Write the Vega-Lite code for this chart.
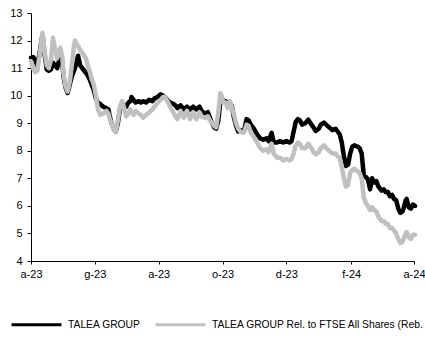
{
  "$schema": "https://vega.github.io/schema/vega-lite/v6.json",
  "width": 383,
  "height": 248,
  "autosize": "none",
  "padding": {"left": 31, "top": 13, "right": 11, "bottom": 77},
  "background": "white",
  "config": {
    "view": {"stroke": null},
    "font": "Liberation Sans",
    "legend": {
      "orient": "none",
      "legendX": -21,
      "legendY": 285,
      "direction": "horizontal",
      "symbolType": "stroke",
      "symbolSize": 2500,
      "symbolStrokeWidth": 3,
      "labelFontSize": 10.3,
      "labelColor": "#000000",
      "labelOffset": 5,
      "columnPadding": 8,
      "padding": 0,
      "labelLimit": 400
    }
  },
  "data": {
    "values": [
      {"d": "2023-04-01", "t": 11.38, "r": 11.25},
      {"d": "2023-04-03", "t": 11.4, "r": 11.0},
      {"d": "2023-04-05", "t": 11.3, "r": 10.85},
      {"d": "2023-04-07", "t": 11.1, "r": 10.9},
      {"d": "2023-04-09", "t": 11.5, "r": 11.4},
      {"d": "2023-04-11", "t": 12.0, "r": 12.0},
      {"d": "2023-04-12", "t": 12.2, "r": 12.28},
      {"d": "2023-04-14", "t": 11.5, "r": 11.6},
      {"d": "2023-04-16", "t": 10.95, "r": 11.1},
      {"d": "2023-04-18", "t": 10.9, "r": 11.0},
      {"d": "2023-04-20", "t": 10.95, "r": 11.3},
      {"d": "2023-04-22", "t": 11.2, "r": 12.1},
      {"d": "2023-04-24", "t": 11.1, "r": 11.7},
      {"d": "2023-04-26", "t": 11.0, "r": 11.35},
      {"d": "2023-04-28", "t": 11.3, "r": 11.6},
      {"d": "2023-04-29", "t": 11.45, "r": 11.74},
      {"d": "2023-05-01", "t": 11.2, "r": 11.4},
      {"d": "2023-05-02", "t": 10.7, "r": 10.8},
      {"d": "2023-05-04", "t": 10.3, "r": 10.35},
      {"d": "2023-05-06", "t": 10.1, "r": 10.15},
      {"d": "2023-05-08", "t": 10.4, "r": 10.5},
      {"d": "2023-05-10", "t": 10.7, "r": 11.1},
      {"d": "2023-05-12", "t": 10.9, "r": 11.8},
      {"d": "2023-05-13", "t": 11.0, "r": 12.0},
      {"d": "2023-05-15", "t": 11.3, "r": 11.85},
      {"d": "2023-05-16", "t": 11.45, "r": 11.8},
      {"d": "2023-05-18", "t": 11.1, "r": 11.65},
      {"d": "2023-05-20", "t": 11.0, "r": 11.55},
      {"d": "2023-05-22", "t": 10.9, "r": 11.45},
      {"d": "2023-05-24", "t": 10.8, "r": 11.3},
      {"d": "2023-05-25", "t": 10.75, "r": 11.1},
      {"d": "2023-05-27", "t": 10.6, "r": 10.9},
      {"d": "2023-05-29", "t": 10.4, "r": 10.6},
      {"d": "2023-05-31", "t": 10.2, "r": 10.4},
      {"d": "2023-06-02", "t": 9.9, "r": 10.0},
      {"d": "2023-06-04", "t": 9.75, "r": 9.5},
      {"d": "2023-06-06", "t": 9.7, "r": 9.3},
      {"d": "2023-06-09", "t": 9.6, "r": 9.35},
      {"d": "2023-06-12", "t": 9.55, "r": 9.45},
      {"d": "2023-06-14", "t": 9.5, "r": 9.35},
      {"d": "2023-06-15", "t": 9.3, "r": 9.2},
      {"d": "2023-06-17", "t": 9.0, "r": 9.0},
      {"d": "2023-06-19", "t": 8.8, "r": 8.75},
      {"d": "2023-06-21", "t": 8.7, "r": 8.7},
      {"d": "2023-06-23", "t": 9.0, "r": 9.1},
      {"d": "2023-06-25", "t": 9.5, "r": 9.6},
      {"d": "2023-06-27", "t": 9.75, "r": 9.8},
      {"d": "2023-06-29", "t": 9.6, "r": 9.55},
      {"d": "2023-07-01", "t": 9.6, "r": 9.25},
      {"d": "2023-07-03", "t": 9.75, "r": 9.35},
      {"d": "2023-07-05", "t": 9.8, "r": 9.5},
      {"d": "2023-07-06", "t": 9.95, "r": 9.4},
      {"d": "2023-07-08", "t": 9.85, "r": 9.3},
      {"d": "2023-07-10", "t": 9.75, "r": 9.45},
      {"d": "2023-07-13", "t": 9.8, "r": 9.35},
      {"d": "2023-07-15", "t": 9.75, "r": 9.3},
      {"d": "2023-07-17", "t": 9.8, "r": 9.2},
      {"d": "2023-07-20", "t": 9.75, "r": 9.3},
      {"d": "2023-07-23", "t": 9.85, "r": 9.4},
      {"d": "2023-07-26", "t": 9.8, "r": 9.5},
      {"d": "2023-07-28", "t": 9.9, "r": 9.6},
      {"d": "2023-07-31", "t": 9.95, "r": 9.75},
      {"d": "2023-08-03", "t": 10.05, "r": 9.85},
      {"d": "2023-08-05", "t": 10.0, "r": 9.95},
      {"d": "2023-08-07", "t": 9.95, "r": 9.95},
      {"d": "2023-08-10", "t": 9.8, "r": 9.75},
      {"d": "2023-08-12", "t": 9.75, "r": 9.6},
      {"d": "2023-08-15", "t": 9.7, "r": 9.4},
      {"d": "2023-08-17", "t": 9.65, "r": 9.25},
      {"d": "2023-08-19", "t": 9.55, "r": 9.15},
      {"d": "2023-08-22", "t": 9.65, "r": 9.45},
      {"d": "2023-08-25", "t": 9.5, "r": 9.2},
      {"d": "2023-08-28", "t": 9.6, "r": 9.45},
      {"d": "2023-08-31", "t": 9.5, "r": 9.15},
      {"d": "2023-09-03", "t": 9.6, "r": 9.4},
      {"d": "2023-09-06", "t": 9.5, "r": 9.15},
      {"d": "2023-09-09", "t": 9.6, "r": 9.4},
      {"d": "2023-09-11", "t": 9.45, "r": 9.25},
      {"d": "2023-09-14", "t": 9.35, "r": 9.2},
      {"d": "2023-09-17", "t": 9.4, "r": 9.25},
      {"d": "2023-09-19", "t": 9.2, "r": 9.1},
      {"d": "2023-09-21", "t": 9.0, "r": 9.0},
      {"d": "2023-09-23", "t": 8.85, "r": 8.9},
      {"d": "2023-09-25", "t": 8.8, "r": 8.85},
      {"d": "2023-09-27", "t": 9.1, "r": 9.4},
      {"d": "2023-09-29", "t": 9.8, "r": 10.1},
      {"d": "2023-09-30", "t": 9.95, "r": 10.0},
      {"d": "2023-10-02", "t": 9.8, "r": 9.75},
      {"d": "2023-10-04", "t": 9.8, "r": 9.75},
      {"d": "2023-10-06", "t": 9.7, "r": 9.55},
      {"d": "2023-10-08", "t": 9.75, "r": 9.8},
      {"d": "2023-10-10", "t": 9.6, "r": 9.55},
      {"d": "2023-10-12", "t": 9.2, "r": 9.3},
      {"d": "2023-10-14", "t": 8.9, "r": 9.0},
      {"d": "2023-10-16", "t": 8.7, "r": 8.8},
      {"d": "2023-10-18", "t": 8.75, "r": 8.7},
      {"d": "2023-10-21", "t": 8.7, "r": 8.65},
      {"d": "2023-10-22", "t": 8.8, "r": 8.7},
      {"d": "2023-10-24", "t": 9.15, "r": 8.95},
      {"d": "2023-10-26", "t": 9.1, "r": 8.9},
      {"d": "2023-10-28", "t": 8.95, "r": 8.65},
      {"d": "2023-10-31", "t": 8.8, "r": 8.5},
      {"d": "2023-11-03", "t": 8.6, "r": 8.3},
      {"d": "2023-11-06", "t": 8.45, "r": 8.1},
      {"d": "2023-11-09", "t": 8.4, "r": 8.0},
      {"d": "2023-11-12", "t": 8.45, "r": 8.05},
      {"d": "2023-11-14", "t": 8.35, "r": 7.95},
      {"d": "2023-11-17", "t": 8.65, "r": 8.25},
      {"d": "2023-11-19", "t": 8.3, "r": 7.9},
      {"d": "2023-11-22", "t": 8.3, "r": 7.75},
      {"d": "2023-11-25", "t": 8.35, "r": 7.75},
      {"d": "2023-11-28", "t": 8.3, "r": 7.65},
      {"d": "2023-12-01", "t": 8.35, "r": 7.7},
      {"d": "2023-12-04", "t": 8.3, "r": 7.65},
      {"d": "2023-12-06", "t": 8.35, "r": 7.7},
      {"d": "2023-12-08", "t": 8.7, "r": 7.9},
      {"d": "2023-12-10", "t": 9.05, "r": 8.2},
      {"d": "2023-12-12", "t": 9.15, "r": 8.3},
      {"d": "2023-12-14", "t": 9.1, "r": 8.25},
      {"d": "2023-12-16", "t": 8.95, "r": 8.1},
      {"d": "2023-12-19", "t": 9.0, "r": 8.1},
      {"d": "2023-12-22", "t": 9.13, "r": 8.25},
      {"d": "2023-12-25", "t": 8.95, "r": 8.1},
      {"d": "2023-12-27", "t": 8.85, "r": 7.95},
      {"d": "2023-12-29", "t": 8.72, "r": 7.87},
      {"d": "2024-01-01", "t": 8.8, "r": 7.95},
      {"d": "2024-01-03", "t": 8.95, "r": 8.1},
      {"d": "2024-01-06", "t": 9.02, "r": 8.2},
      {"d": "2024-01-08", "t": 8.95, "r": 8.1},
      {"d": "2024-01-11", "t": 8.85, "r": 8.0},
      {"d": "2024-01-14", "t": 8.75, "r": 7.9},
      {"d": "2024-01-17", "t": 8.8, "r": 7.9},
      {"d": "2024-01-19", "t": 8.7, "r": 7.8},
      {"d": "2024-01-21", "t": 8.6, "r": 7.75},
      {"d": "2024-01-23", "t": 8.3, "r": 7.4},
      {"d": "2024-01-25", "t": 7.8, "r": 7.0},
      {"d": "2024-01-27", "t": 7.45, "r": 6.7},
      {"d": "2024-01-29", "t": 7.5, "r": 6.75},
      {"d": "2024-01-31", "t": 7.9, "r": 7.2},
      {"d": "2024-02-02", "t": 8.15, "r": 7.3},
      {"d": "2024-02-04", "t": 8.2, "r": 7.35},
      {"d": "2024-02-07", "t": 8.15, "r": 7.25},
      {"d": "2024-02-09", "t": 8.1, "r": 7.2},
      {"d": "2024-02-11", "t": 7.9, "r": 7.0},
      {"d": "2024-02-13", "t": 7.1, "r": 6.3},
      {"d": "2024-02-15", "t": 7.05, "r": 6.1},
      {"d": "2024-02-17", "t": 6.95, "r": 6.0},
      {"d": "2024-02-19", "t": 6.6, "r": 5.85},
      {"d": "2024-02-21", "t": 7.0, "r": 5.95},
      {"d": "2024-02-23", "t": 6.85, "r": 5.85},
      {"d": "2024-02-25", "t": 6.9, "r": 5.8},
      {"d": "2024-02-27", "t": 6.7, "r": 5.6},
      {"d": "2024-02-28", "t": 6.65, "r": 5.55},
      {"d": "2024-03-01", "t": 6.55, "r": 5.45},
      {"d": "2024-03-03", "t": 6.6, "r": 5.45},
      {"d": "2024-03-05", "t": 6.5, "r": 5.35},
      {"d": "2024-03-07", "t": 6.5, "r": 5.35},
      {"d": "2024-03-09", "t": 6.35, "r": 5.2},
      {"d": "2024-03-11", "t": 6.4, "r": 5.2},
      {"d": "2024-03-13", "t": 6.25, "r": 5.1},
      {"d": "2024-03-15", "t": 6.2, "r": 5.0},
      {"d": "2024-03-17", "t": 5.9, "r": 4.8},
      {"d": "2024-03-19", "t": 5.75, "r": 4.65},
      {"d": "2024-03-21", "t": 5.8, "r": 4.7},
      {"d": "2024-03-22", "t": 5.9, "r": 4.8},
      {"d": "2024-03-24", "t": 6.2, "r": 5.0},
      {"d": "2024-03-25", "t": 6.25, "r": 5.05},
      {"d": "2024-03-27", "t": 5.95, "r": 4.85},
      {"d": "2024-03-29", "t": 5.9, "r": 4.8},
      {"d": "2024-03-31", "t": 6.05, "r": 4.95},
      {"d": "2024-04-02", "t": 6.0, "r": 4.95}
    ]
  },
  "encoding": {
    "x": {
      "field": "d",
      "type": "temporal",
      "scale": {
        "type": "utc",
        "domain": [
          {"year": 2023, "month": 4, "date": 1, "utc": true},
          {"year": 2024, "month": 4, "date": 1, "utc": true}
        ]
      },
      "axis": {
        "title": null,
        "grid": false,
        "values": [
          {"year": 2023, "month": 4, "date": 1, "utc": true},
          {"year": 2023, "month": 6, "date": 1, "utc": true},
          {"year": 2023, "month": 8, "date": 1, "utc": true},
          {"year": 2023, "month": 10, "date": 1, "utc": true},
          {"year": 2023, "month": 12, "date": 1, "utc": true},
          {"year": 2024, "month": 2, "date": 1, "utc": true},
          {"year": 2024, "month": 4, "date": 1, "utc": true}
        ],
        "labelExpr": "substring('gfmamglasond', utcmonth(datum.value), utcmonth(datum.value) + 1) + '-' + utcFormat(datum.value, '%y')",
        "labelFontSize": 11,
        "labelColor": "#000000",
        "labelPadding": 4,
        "labelFlush": false,
        "labelOverlap": false,
        "tickSize": 3,
        "tickColor": "#000000",
        "domainColor": "#000000"
      }
    },
    "y": {
      "field": "t",
      "type": "quantitative",
      "scale": {"domain": [4, 13], "nice": false, "zero": false},
      "axis": {
        "title": null,
        "grid": false,
        "tickCount": 10,
        "values": [4, 5, 6, 7, 8, 9, 10, 11, 12, 13],
        "labelOverlap": false,
        "labelFlush": false,
        "labelFontSize": 11,
        "labelColor": "#000000",
        "labelPadding": 5,
        "tickSize": 4,
        "tickColor": "#000000",
        "domainColor": "#000000"
      }
    }
  },
  "layer": [
    {
      "mark": {"type": "line", "strokeWidth": 4.5, "strokeJoin": "round", "strokeCap": "round", "clip": false},
      "encoding": {
        "color": {
          "datum": "TALEA GROUP",
          "scale": {
            "domain": ["TALEA GROUP", "TALEA GROUP Rel. to FTSE All Shares (Reb."],
            "range": ["#000000", "#c0c0c0"]
          },
          "legend": {"title": null}
        }
      }
    },
    {
      "mark": {"type": "line", "strokeWidth": 4.5, "strokeJoin": "round", "strokeCap": "round", "clip": false},
      "encoding": {
        "y": {"field": "r", "type": "quantitative"},
        "color": {"datum": "TALEA GROUP Rel. to FTSE All Shares (Reb."}
      }
    }
  ]
}
